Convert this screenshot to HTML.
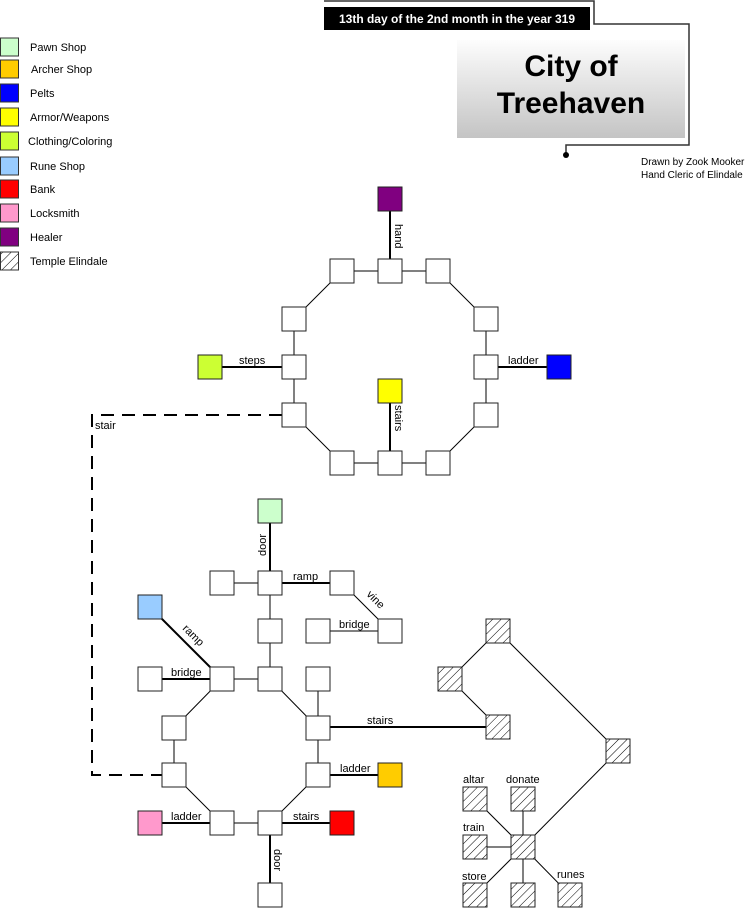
<!DOCTYPE html>
<html><head><meta charset="utf-8"><style>
html,body{margin:0;padding:0;background:#fff}
svg{display:block}
text{font-family:"Liberation Sans",Arial,sans-serif;fill:#000}
</style></head><body>
<svg width="752" height="908" viewBox="0 0 752 908" xmlns="http://www.w3.org/2000/svg">
<defs>
<pattern id="h" width="6" height="6" patternUnits="userSpaceOnUse" patternTransform="rotate(45)">
<rect width="6" height="6" fill="#fff"/><line x1="0" y1="0" x2="0" y2="6" stroke="#000" stroke-width="1"/>
</pattern>
<linearGradient id="g" x1="0" y1="0" x2="0" y2="1"><stop offset="0" stop-color="#fdfdfd"/><stop offset="1" stop-color="#c4c4c4"/></linearGradient>
</defs>
<!-- header -->
<polyline points="324,1 594,1 594,24 689,24 689,145 566,145 566,155" fill="none" stroke="#333" stroke-width="1.5"/>
<circle cx="566" cy="155" r="3" fill="#000"/>
<rect x="324" y="7" width="266" height="23" fill="#000"/>
<text x="457" y="23" font-size="12" font-weight="bold" text-anchor="middle" style="fill:#fff">13th day of the 2nd month in the year 319</text>
<rect x="457" y="40" width="228" height="98" fill="url(#g)"/>
<text x="571" y="76" font-size="30" font-weight="bold" text-anchor="middle">City of</text>
<text x="571" y="113" font-size="30" font-weight="bold" text-anchor="middle">Treehaven</text>
<text x="641" y="165" font-size="10">Drawn by Zook Mooker</text>
<text x="641" y="178" font-size="10">Hand Cleric of Elindale</text>
<!-- legend -->
<g stroke="#333" stroke-width="1">
<rect x="0.5" y="38" width="18" height="18" fill="#ccffcc"/>
<rect x="0.5" y="60" width="18" height="18" fill="#ffcc00"/>
<rect x="0.5" y="84" width="18" height="18" fill="#0000ff"/>
<rect x="0.5" y="108" width="18" height="18" fill="#ffff00"/>
<rect x="0.5" y="132" width="18" height="18" fill="#ccff33"/>
<rect x="0.5" y="157" width="18" height="18" fill="#99ccff"/>
<rect x="0.5" y="180" width="18" height="18" fill="#ff0000"/>
<rect x="0.5" y="204" width="18" height="18" fill="#ff99cc"/>
<rect x="0.5" y="228" width="18" height="18" fill="#800080"/>
<rect x="0.5" y="252" width="18" height="18" fill="url(#h)"/>
</g>
<g font-size="11">
<text x="30" y="51">Pawn Shop</text><text x="31" y="73">Archer Shop</text><text x="30" y="97">Pelts</text>
<text x="30" y="121">Armor/Weapons</text><text x="28" y="145">Clothing/Coloring</text><text x="30" y="170">Rune Shop</text>
<text x="30" y="193">Bank</text><text x="30" y="217">Locksmith</text><text x="30" y="241">Healer</text><text x="30" y="265">Temple Elindale</text>
</g>
<!-- thin connectors -->
<g stroke="#000" stroke-width="1" fill="none">
<line x1="342" y1="271" x2="438" y2="271"/>
<line x1="342" y1="271" x2="294" y2="319"/><line x1="438" y1="271" x2="486" y2="319"/>
<line x1="294" y1="319" x2="294" y2="415"/><line x1="486" y1="319" x2="486" y2="415"/>
<line x1="294" y1="415" x2="342" y2="463"/><line x1="486" y1="415" x2="438" y2="463"/>
<line x1="342" y1="463" x2="438" y2="463"/>
<line x1="222" y1="583" x2="270" y2="583"/>
<line x1="342" y1="583" x2="390" y2="631"/>
<line x1="318" y1="631" x2="390" y2="631"/>
<line x1="270" y1="583" x2="270" y2="679"/>
<line x1="222" y1="679" x2="270" y2="679"/>
<line x1="222" y1="679" x2="174" y2="728"/><line x1="270" y1="679" x2="318" y2="728"/>
<line x1="318" y1="679" x2="318" y2="775"/>
<line x1="174" y1="728" x2="174" y2="775"/>
<line x1="174" y1="775" x2="222" y2="823"/><line x1="318" y1="775" x2="270" y2="823"/>
<line x1="222" y1="823" x2="270" y2="823"/>
<line x1="498" y1="631" x2="450" y2="679"/><line x1="450" y1="679" x2="498" y2="727"/>
<line x1="498" y1="631" x2="618" y2="751"/><line x1="618" y1="751" x2="523" y2="847"/>
<line x1="475" y1="799" x2="523" y2="847"/><line x1="523" y1="799" x2="523" y2="895"/>
<line x1="475" y1="847" x2="523" y2="847"/><line x1="475" y1="895" x2="523" y2="847"/>
<line x1="570" y1="895" x2="523" y2="847"/>
</g>
<g stroke="#000" stroke-width="2" fill="none">
<line x1="390" y1="199" x2="390" y2="271"/>
<line x1="390" y1="391" x2="390" y2="463"/>
<line x1="210" y1="367" x2="294" y2="367"/><line x1="486" y1="367" x2="559" y2="367"/>
<line x1="270" y1="511" x2="270" y2="583"/><line x1="270" y1="583" x2="342" y2="583"/>
<line x1="150" y1="607" x2="222" y2="679"/><line x1="150" y1="679" x2="222" y2="679"/>
<line x1="318" y1="727" x2="498" y2="727"/><line x1="318" y1="775" x2="390" y2="775"/>
<line x1="150" y1="823" x2="222" y2="823"/><line x1="270" y1="823" x2="342" y2="823"/>
<line x1="270" y1="823" x2="270" y2="895"/>
<polyline points="282,415 92,415 92,775 162,775" stroke-dasharray="13,8"/>
</g>
<!-- nodes -->
<g stroke="#222" stroke-width="1">
<g fill="#fff">
<rect x="330" y="259" width="24" height="24"/><rect x="378" y="259" width="24" height="24"/><rect x="426" y="259" width="24" height="24"/>
<rect x="282" y="307" width="24" height="24"/><rect x="474" y="307" width="24" height="24"/>
<rect x="282" y="355" width="24" height="24"/><rect x="474" y="355" width="24" height="24"/>
<rect x="282" y="403" width="24" height="24"/><rect x="474" y="403" width="24" height="24"/>
<rect x="330" y="451" width="24" height="24"/><rect x="378" y="451" width="24" height="24"/><rect x="426" y="451" width="24" height="24"/>
<rect x="210" y="571" width="24" height="24"/><rect x="258" y="571" width="24" height="24"/><rect x="330" y="571" width="24" height="24"/>
<rect x="258" y="619" width="24" height="24"/><rect x="306" y="619" width="24" height="24"/><rect x="378" y="619" width="24" height="24"/>
<rect x="138" y="667" width="24" height="24"/><rect x="210" y="667" width="24" height="24"/><rect x="258" y="667" width="24" height="24"/><rect x="306" y="667" width="24" height="24"/>
<rect x="162" y="716" width="24" height="24"/><rect x="306" y="716" width="24" height="24"/>
<rect x="162" y="763" width="24" height="24"/><rect x="306" y="763" width="24" height="24"/>
<rect x="210" y="811" width="24" height="24"/><rect x="258" y="811" width="24" height="24"/>
<rect x="258" y="883" width="24" height="24"/>
</g>
<rect x="378" y="187" width="24" height="24" fill="#800080"/>
<rect x="198" y="355" width="24" height="24" fill="#ccff33"/>
<rect x="547" y="355" width="24" height="24" fill="#0000ff"/>
<rect x="378" y="379" width="24" height="24" fill="#ffff00"/>
<rect x="258" y="499" width="24" height="24" fill="#ccffcc"/>
<rect x="138" y="595" width="24" height="24" fill="#99ccff"/>
<rect x="378" y="763" width="24" height="24" fill="#ffcc00"/>
<rect x="138" y="811" width="24" height="24" fill="#ff99cc"/>
<rect x="330" y="811" width="24" height="24" fill="#ff0000"/>
<g fill="url(#h)">
<rect x="486" y="619" width="24" height="24"/><rect x="438" y="667" width="24" height="24"/><rect x="486" y="715" width="24" height="24"/>
<rect x="606" y="739" width="24" height="24"/>
<rect x="463" y="787" width="24" height="24"/><rect x="511" y="787" width="24" height="24"/>
<rect x="463" y="835" width="24" height="24"/><rect x="511" y="835" width="24" height="24"/>
<rect x="463" y="883" width="24" height="24"/><rect x="511" y="883" width="24" height="24"/><rect x="558" y="883" width="24" height="24"/>
</g>
</g>
<!-- labels -->
<g font-size="11">
<text x="239" y="364">steps</text><text x="508" y="364">ladder</text>
<text x="95" y="429">stair</text>
<text x="293" y="580">ramp</text>
<text x="339" y="628">bridge</text><text x="171" y="676">bridge</text>
<text x="367" y="724">stairs</text>
<text x="340" y="772">ladder</text>
<text x="171" y="820">ladder</text><text x="293" y="820">stairs</text>
<text x="463" y="783">altar</text><text x="506" y="783">donate</text>
<text x="463" y="831">train</text><text x="462" y="880">store</text><text x="557" y="878">runes</text>
<text transform="translate(395,224) rotate(90)">hand</text>
<text transform="translate(395,405) rotate(90)">stairs</text>
<text transform="translate(266,556) rotate(-90)">door</text>
<text transform="translate(274,849) rotate(90)">door</text>
<text transform="translate(182,629) rotate(45)">ramp</text>
<text transform="translate(366,595) rotate(45)">vine</text>
</g>
</svg>
</body></html>
